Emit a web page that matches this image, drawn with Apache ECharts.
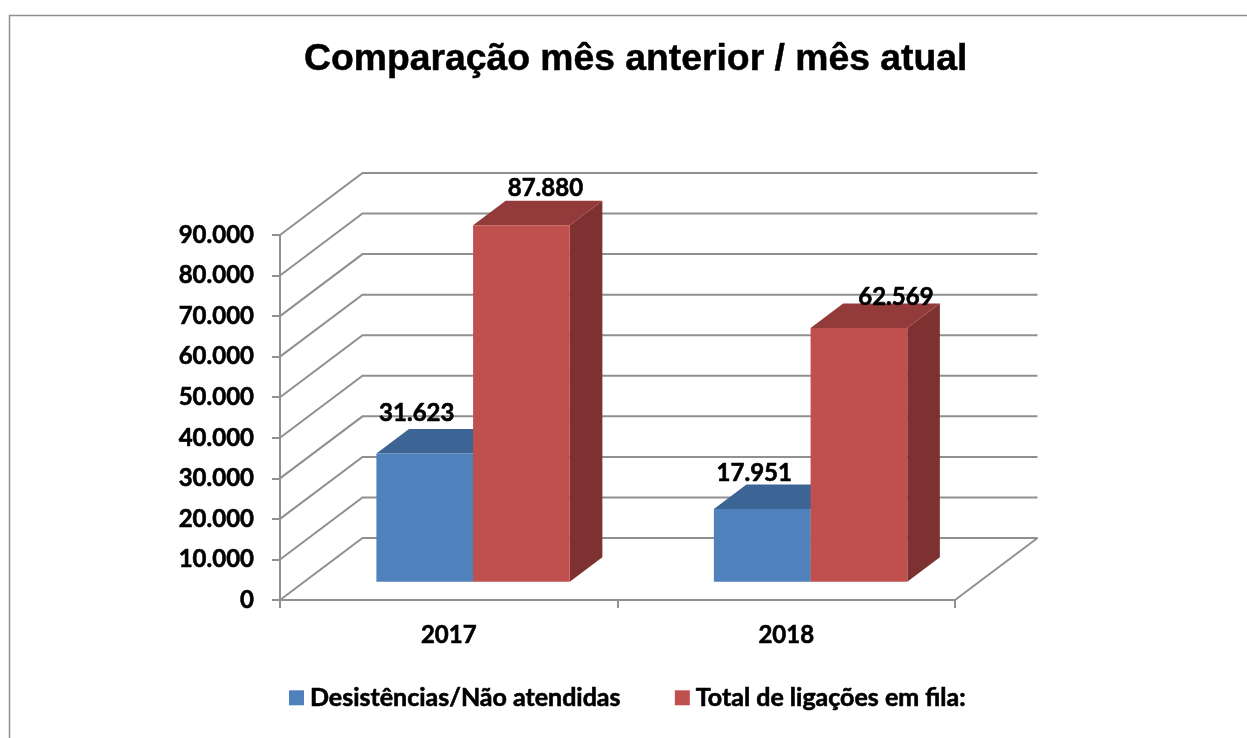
<!DOCTYPE html>
<html>
<head>
<meta charset="utf-8">
<style>html,body{margin:0;padding:0;background:#fff}#c{width:1247px;height:738px}</style>
<script src="https://cdn.jsdelivr.net/npm/echarts@6/dist/echarts.min.js"></script>
</head>
<body>
<div id="c"></div>
<script>
const chartTitle = 'Comparação mês anterior / mês atual';
const categories = ['2017', '2018'];
const seriesNames = ['Desistências/Não atendidas', 'Total de ligações em fila:'];
const desistencias = [31623, 17951];
const totalLigacoes = [87880, 62569];
const wallTicks = [0, 10000, 20000, 30000, 40000, 50000, 60000, 70000, 80000, 90000];

const GRAY = '#909090';
const LABEL_FONT = 'Lato';
const LABEL_SIZE = 24;
const HEAVY = { textBorderColor: '#000', textBorderWidth: 0.6 };
const DEPTH = { dx: 82.5, dy: 62 };
const BAR_FRONT = 0.295, BAR_BACK = 0.69, BAR_BAND = 0.2865;
const fmt = v => String(v).replace(/\B(?=(\d{3})+(?!\d))/g, '.');

const chart = echarts.init(document.getElementById('c'), null, { renderer: 'canvas' });

function renderWall(params, api) {
  const v = api.value(1);
  const p = api.coord([0, v]);
  const band = api.size([1, 0])[0];
  const x0 = p[0] - band / 2, x1 = x0 + band * categories.length, y = p[1];
  const lineStyle = { stroke: GRAY, lineWidth: 2, fill: null };
  const children = [{
    type: 'polyline',
    shape: { points: [[x0, y], [x0 + DEPTH.dx, y - DEPTH.dy], [x1 + DEPTH.dx, y - DEPTH.dy]] },
    style: lineStyle
  }];
  if (v === 0) {
    children.push({
      type: 'line',
      shape: { x1: x1, y1: y, x2: x1 + DEPTH.dx, y2: y - DEPTH.dy },
      style: lineStyle
    });
  }
  return { type: 'group', children };
}

function barRenderer(side, colors, labelOffsets) {
  return function (params, api) {
    const cat = api.value(0), val = api.value(1);
    const top = api.coord([cat, val]);
    const base = api.coord([cat, 0]);
    const band = api.size([1, 0])[0];
    const w = band * BAR_BAND;
    const fx = DEPTH.dx * BAR_FRONT, fy = DEPTH.dy * BAR_FRONT;
    const sx = DEPTH.dx * (BAR_BACK - BAR_FRONT), sy = DEPTH.dy * (BAR_BACK - BAR_FRONT);
    const l = top[0] + fx + (side < 0 ? -w : 0), r = l + w;
    const t = top[1] - fy, b = base[1] - fy;
    const off = labelOffsets[params.dataIndex];
    return {
      type: 'group',
      children: [
        { type: 'polygon', shape: { points: [[r, t], [r + sx, t - sy], [r + sx, b - sy], [r, b]] }, style: { fill: colors.side } },
        { type: 'polygon', shape: { points: [[l, t], [l + sx, t - sy], [r + sx, t - sy], [r, t]] }, style: { fill: colors.top } },
        { type: 'rect', shape: { x: l, y: t, width: w, height: b - t }, style: { fill: colors.front } },
        {
          type: 'text',
          style: {
            x: (l + r) / 2 + off[0], y: t + off[1],
            text: fmt(val),
            fill: '#000', stroke: '#000', lineWidth: 0.6,
            font: 'bold ' + LABEL_SIZE + 'px ' + LABEL_FONT,
            align: 'center', verticalAlign: 'middle'
          }
        }
      ]
    };
  };
}

chart.setOption({
  animation: false,
  backgroundColor: '#fff',
  title: {
    text: chartTitle,
    left: 299, top: 36,
    textStyle: { fontFamily: '"Liberation Sans"', fontWeight: 'bold', fontSize: 37.3, color: '#000', textBorderColor: '#000', textBorderWidth: 0.5 }
  },
  graphic: [{
    type: 'polyline',
    shape: { points: [[9.5, 738], [9.5, 15.5], [1247, 15.5]] },
    style: { stroke: GRAY, lineWidth: 1.5, fill: null }
  }],
  legend: {
    data: seriesNames,
    left: 289, top: 685, padding: 0,
    itemWidth: 15, itemHeight: 15, itemGap: 54,
    icon: 'rect',
    textStyle: { fontFamily: LABEL_FONT, fontWeight: 'bold', fontSize: 25, color: '#000', padding: [0, 0, 0, 1], ...HEAVY },
    selectedMode: false
  },
  grid: { left: 280, top: 235, width: 675, height: 365, containLabel: false },
  xAxis: {
    type: 'category',
    data: categories,
    axisLine: { lineStyle: { color: GRAY, width: 2 } },
    axisTick: { show: true, interval: 0, length: 8, alignWithLabel: false, lineStyle: { color: GRAY, width: 2 } },
    axisLabel: { margin: 23, fontFamily: LABEL_FONT, fontWeight: 'bold', fontSize: LABEL_SIZE, color: '#000', ...HEAVY },
    splitLine: { show: false }
  },
  yAxis: {
    type: 'value',
    min: 0, max: 90000, interval: 10000,
    axisLine: { show: true, lineStyle: { color: GRAY, width: 2 } },
    axisTick: { show: true, length: 8, lineStyle: { color: GRAY, width: 2 } },
    axisLabel: { margin: 26, formatter: fmt, fontFamily: LABEL_FONT, fontWeight: 'bold', fontSize: LABEL_SIZE, color: '#000', ...HEAVY },
    splitLine: { show: false }
  },
  series: [
    {
      type: 'custom', name: 'walls', z: 1, silent: true,
      renderItem: renderWall,
      encode: { x: 0, y: 1 },
      data: wallTicks.map(v => [0, v])
    },
    {
      type: 'custom', name: seriesNames[0], z: 2,
      itemStyle: { color: '#4f81bd' },
      renderItem: barRenderer(-1, { front: '#4f81bd', top: '#3c6494', side: '#3a5f8c' }, [[-8, -40], [-8, -36]]),
      encode: { x: 0, y: 1 },
      data: desistencias.map((v, i) => [i, v])
    },
    {
      type: 'custom', name: seriesNames[1], z: 3,
      itemStyle: { color: '#c0504d' },
      renderItem: barRenderer(1, { front: '#c0504d', top: '#933b3a', side: '#7d3130' }, [[24, -37], [37, -31]]),
      encode: { x: 0, y: 1 },
      data: totalLigacoes.map((v, i) => [i, v])
    }
  ]
});
</script>
</body>
</html>
